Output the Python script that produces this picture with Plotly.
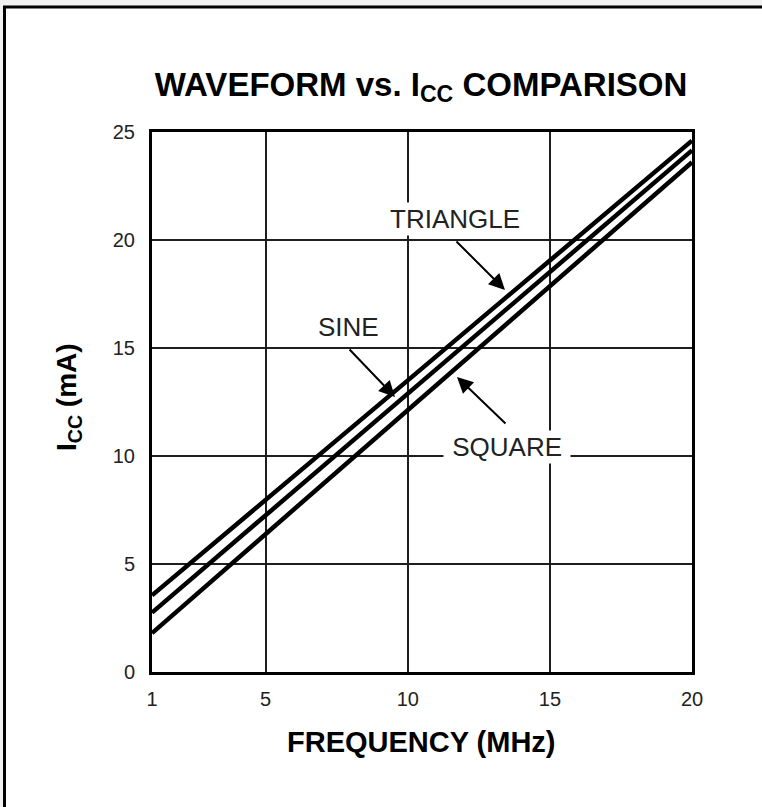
import plotly.graph_objects as go

# Data
freq_mhz = [1, 5, 10, 15, 20]
icc_triangle = [3.55, 8.0, 13.5, 19.05, 24.6]
icc_sine = [2.75, 7.25, 12.9, 18.5, 24.15]
icc_square = [1.8, 6.4, 12.1, 17.85, 23.6]

x_ticks = [1, 5, 10, 15, 20]
y_ticks = [0, 5, 10, 15, 20, 25]

W, H = 762, 807
L, R, T, B = 152, 692, 132, 672
PW, PH = R - L, B - T

def px(xp):
    return (xp - L) / PW

def py(yp):
    return (B - yp) / PH

FONT = "Liberation Sans, Arial, Helvetica, sans-serif"

fig = go.Figure()
for name, vals in [("TRIANGLE", icc_triangle), ("SINE", icc_sine), ("SQUARE", icc_square)]:
    fig.add_trace(go.Scatter(x=freq_mhz, y=vals, mode="lines", name=name,
                             line=dict(color="black", width=4.5), showlegend=False,
                             hoverinfo="skip"))

axis_common = dict(showgrid=True, gridcolor="#1e1e1e", gridwidth=2.2,
                   showline=True, linecolor="black", linewidth=3, mirror=True,
                   zeroline=False, ticks="", fixedrange=True,
                   tickfont=dict(family=FONT, size=20, color="#222222"))

fig.update_xaxes(range=[1, 20], tickvals=x_ticks, ticktext=[str(t) for t in x_ticks],
                 ticklabelstandoff=7, **axis_common)
fig.update_yaxes(range=[0, 25], tickvals=y_ticks, ticktext=[str(t) for t in y_ticks],
                 ticklabelstandoff=10, **axis_common)

# Frame: light grey outer strip with black border
fig.add_shape(type="rect", xref="paper", yref="paper",
              x0=px(4.5), x1=px(800), y0=py(840), y1=py(7),
              fillcolor="white", line=dict(color="black", width=3), layer="below")

annotations = []
# Axis titles
annotations.append(dict(text="<b>FREQUENCY (MHz)</b>", xref="paper", yref="paper",
                        x=px(421), y=py(742), showarrow=False,
                        font=dict(family=FONT, size=29, color="black"),
                        xanchor="center", yanchor="middle"))
annotations.append(dict(text="<b>I<sub>CC</sub> (mA)</b>", xref="paper", yref="paper",
                        x=px(68), y=py(397), showarrow=False, textangle=-90,
                        font=dict(family=FONT, size=28, color="black"),
                        xanchor="center", yanchor="middle"))

# Curve labels (white boxes mask gridlines)
labels = [("TRIANGLE", 11.66, 20.95), ("SINE", 7.90, 15.95), ("&nbsp;SQUARE&nbsp;", 13.49, 10.42)]
for txt, lx, ly in labels:
    annotations.append(dict(text=txt, x=lx, y=ly, xref="x", yref="y", showarrow=False,
                            font=dict(family=FONT, size=26, color="#222222"),
                            bgcolor="white", borderpad=1,
                            xanchor="center", yanchor="middle"))

# Arrows (tail -> tip)
arrows = [((11.66, 20.0), (13.42, 17.69)),
          ((7.90, 15.0), (9.55, 12.73)),
          ((13.49, 11.44), (11.73, 13.66))]
for (ax, ay), (tx, ty) in arrows:
    annotations.append(dict(text="", x=tx, y=ty, ax=ax, ay=ay, xref="x", yref="y",
                            axref="x", ayref="y", showarrow=True, arrowhead=2,
                            arrowsize=1.6, arrowwidth=2, arrowcolor="black",
                            standoff=0, startstandoff=0))

fig.update_layout(
    width=W, height=H,
    margin=dict(l=L, r=W - R, t=T, b=H - B, pad=0),
    paper_bgcolor="#f1f1f1", plot_bgcolor="white",
    title=dict(text="<b>WAVEFORM vs. I<sub>CC</sub> COMPARISON</b>",
               x=px(421), xref="paper", xanchor="center",
               y=1 - 84 / H, yref="container", yanchor="middle",
               font=dict(family=FONT, size=33, color="black")),
    annotations=annotations,
    showlegend=False,
)

fig.write_html("out.html", config={"displayModeBar": False},
               post_script="document.body.style.margin='0';document.body.style.overflow='hidden';")
